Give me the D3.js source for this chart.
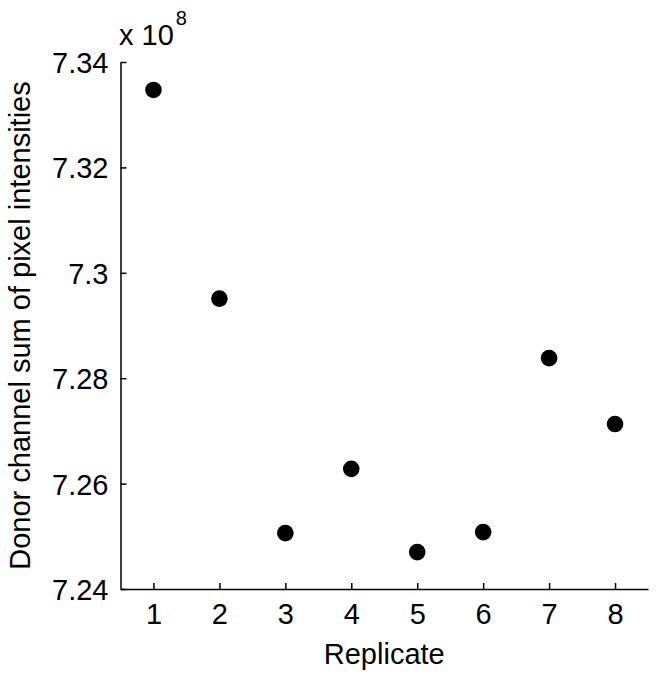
<!DOCTYPE html>
<html>
<head>
<meta charset="utf-8">
<script src="https://cdn.jsdelivr.net/npm/d3@7"></script>
<style>
  body { margin: 0; background: #fff; }
  text { font-family: "Liberation Sans", Arial, sans-serif; fill: #000; }
</style>
</head>
<body>
<script>
// data (units of 1e8)
var replicates = [1, 2, 3, 4, 5, 6, 7, 8];
var donorSums = [7.3347, 7.2951, 7.2506, 7.2628, 7.2470, 7.2508, 7.2838, 7.2713];
var yTicks = [7.24, 7.26, 7.28, 7.3, 7.32, 7.34];
var yTickLabels = ["7.24", "7.26", "7.28", "7.3", "7.32", "7.34"];

var width = 657, height = 680;
var margin = { left: 120.5, right: 9, top: 62, bottom: 91 };

var svg = d3.select("body")
    .append("svg")
    .attr("width", width)
    .attr("height", height);

var x = d3.scaleLinear()
    .domain([0.5, 8.5])
    .range([margin.left, width - margin.right]);

var y = d3.scaleLinear()
    .domain([7.24, 7.34])
    .range([height - margin.bottom, margin.top]);

// x axis, ticks pointing in
var xAxis = svg.append("g")
    .attr("transform", "translate(0," + (height - margin.bottom) + ")")
    .call(d3.axisBottom(x).tickValues(replicates).tickSizeInner(-6).tickSizeOuter(0).tickPadding(14));

// y axis, ticks pointing in
var yAxis = svg.append("g")
    .attr("transform", "translate(" + margin.left + ",0)")
    .call(d3.axisLeft(y).tickValues(yTicks)
        .tickFormat(function (d, i) { return yTickLabels[i]; })
        .tickSizeInner(-6).tickSizeOuter(0).tickPadding(12));

svg.selectAll(".domain, .tick line")
    .attr("stroke", "#000")
    .attr("stroke-width", 1.5);

svg.selectAll(".tick text")
    .style("font-size", "29px")
    .style("font-family", "'Liberation Sans', Arial, sans-serif")
    .attr("fill", "#000");

// y axis only: labels vertically centred on tick
yAxis.selectAll(".tick text").attr("dy", "0.36em");

// points
svg.append("g")
    .selectAll("circle")
    .data(replicates)
    .enter().append("circle")
    .attr("cx", function (d) { return x(d); })
    .attr("cy", function (d, i) { return y(donorSums[i]); })
    .attr("r", 8.3)
    .attr("fill", "#000");

// exponent label
var expo = svg.append("text")
    .attr("x", 119)
    .attr("y", 45)
    .style("font-size", "29px");
expo.append("tspan").text("x 10");
expo.append("tspan")
    .attr("dx", 2)
    .attr("dy", -20)
    .style("font-size", "20px")
    .text("8");

// axis titles
svg.append("text")
    .attr("x", (margin.left + width - margin.right) / 2)
    .attr("y", 664)
    .attr("text-anchor", "middle")
    .style("font-size", "29px")
    .text("Replicate");

svg.append("text")
    .attr("transform", "translate(30," + (margin.top + height - margin.bottom) / 2 + ") rotate(-90)")
    .attr("text-anchor", "middle")
    .style("font-size", "29px")
    .text("Donor channel sum of pixel intensities");
</script>
</body>
</html>
